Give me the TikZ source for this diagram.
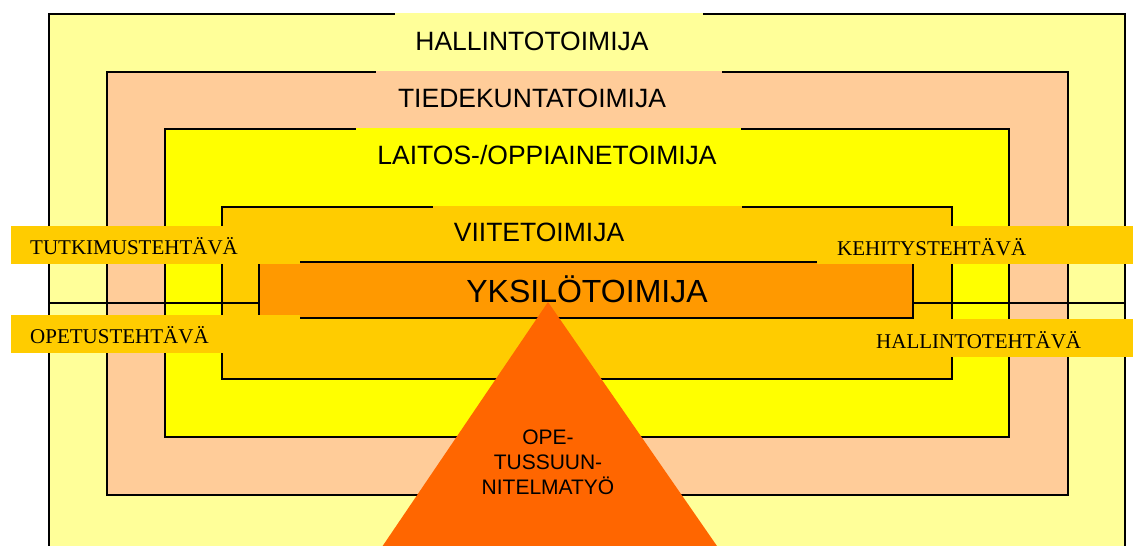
\documentclass[tikz,border=0pt]{standalone}
\usepackage{fontspec}
\setmainfont{Liberation Sans}
\newfontfamily\timesfont{Liberation Serif}
\definecolor{cOuter}{HTML}{FFFF99}
\definecolor{cFac}{HTML}{FFCC99}
\definecolor{cDep}{HTML}{FFFF00}
\definecolor{cRef}{HTML}{FFCC00}
\definecolor{cInd}{HTML}{FF9900}
\definecolor{cTri}{HTML}{FF6600}
\tikzset{
  frame/.style={draw=black,line width=1.6pt},
  title/.style={font=\fontsize{26.5}{30}\selectfont,inner sep=0pt,anchor=base},
  task/.style={font=\timesfont\fontsize{21}{24}\selectfont,inner sep=0pt,anchor=base west},
  taskbox/.style={fill=cRef},
}
\begin{document}
\begin{tikzpicture}[x=1pt,y=-1pt]
\useasboundingbox (0,0) rectangle (1133,546);
\clip (0,0) rectangle (1133,546);
\fill[white] (0,0) rectangle (1133,546);
% nested frames with title patches
\filldraw[frame,fill=cOuter] (49,14) rectangle (1125,580);
\fill[cOuter] (395,13.2) rectangle (703,60);
\filldraw[frame,fill=cFac] (107,72) rectangle (1068,495);
\fill[cFac] (376,71.2) rectangle (722,120);
\filldraw[frame,fill=cDep] (165,129) rectangle (1009,437);
\fill[cDep] (356,128.2) rectangle (741,180);
\filldraw[frame,fill=cRef] (222,207) rectangle (952,379);
\fill[cRef] (433,206.2) rectangle (742,255);
% middle line
\coordinate (ml) at (49,303);
\coordinate (mr) at (1125,303);
\draw[frame] (ml) -- (mr);
% individual box
\filldraw[frame,fill=cInd] (259,262) rectangle (913,318);
% task label boxes
\fill[taskbox] (11,226) rectangle (300,264);
\fill[taskbox] (11,315) rectangle (300,353);
\fill[taskbox] (817,226) rectangle (1133,264);
\fill[taskbox] (855,319) rectangle (1133,357);
% triangle
\fill[cTri] (548,302) -- (365,572) -- (735,572) -- cycle;
% texts
\node[title] (hallinto) at (532,50) {HALLINTOTOIMIJA};
\node[title] (tiedekunta) at (532,107.5) {TIEDEKUNTATOIMIJA};
\node[title] (laitos) at (547,164) {LAITOS-/OPPIAINETOIMIJA};
\node[title] (viite) at (539,241) {VIITETOIMIJA};
\node[font=\fontsize{32}{36}\selectfont,inner sep=0pt,anchor=base] (yksilo) at (587,302) {YKSILÖTOIMIJA};
\node[task] (tutkimus) at (30,254) {TUTKIMUSTEHTÄVÄ};
\node[task] (opetus) at (30,343) {OPETUSTEHTÄVÄ};
\node[task] (kehitys) at (837,255) {KEHITYSTEHTÄVÄ};
\node[task] (hallintot) at (876,348) {HALLINTOTEHTÄVÄ};
\node[font=\fontsize{21}{25}\selectfont,align=center,inner sep=0pt] (ops) at (548,462) {OPE-\\TUSSUUN-\\NITELMATYÖ};
\end{tikzpicture}
\end{document}
